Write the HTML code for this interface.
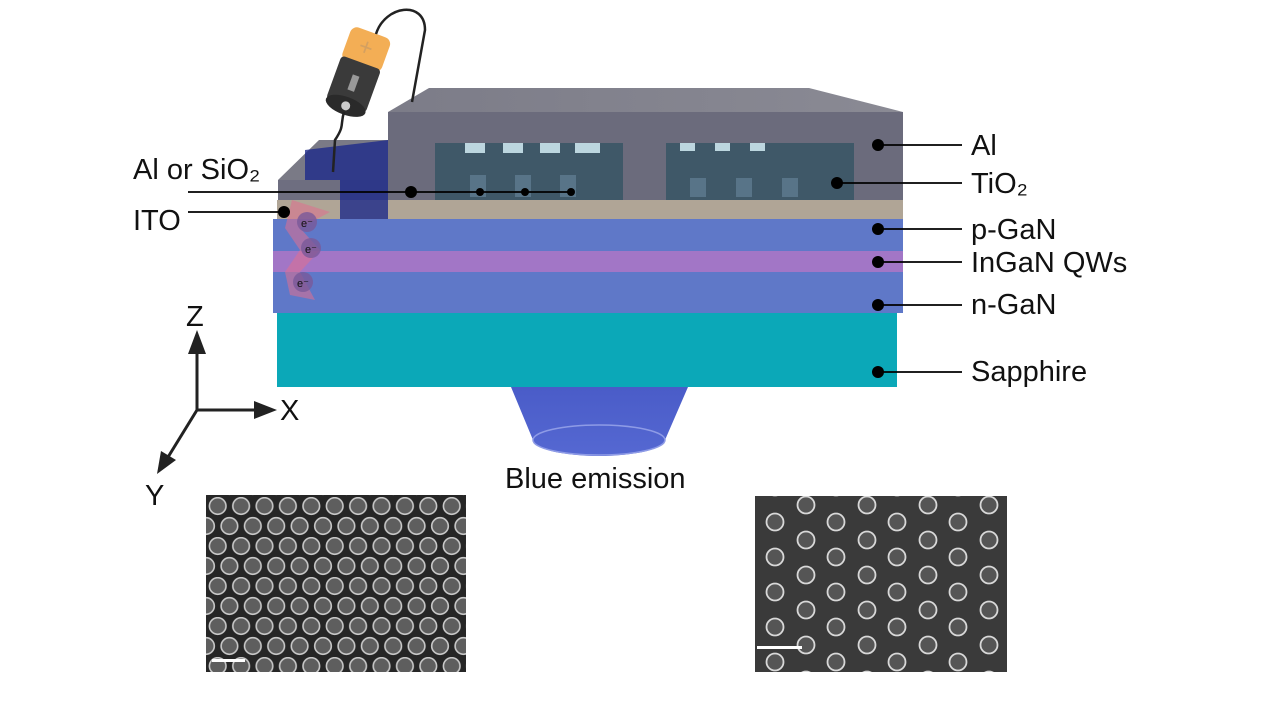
<!DOCTYPE html>
<html><head><meta charset="utf-8"><style>
html,body{margin:0;padding:0;background:#fff;}
svg{display:block;}
text{font-family:"Liberation Sans",Arial,sans-serif;fill:#111;}
</style></head><body>
<svg width="1280" height="720" viewBox="0 0 1280 720" xmlns="http://www.w3.org/2000/svg">
<defs>
<pattern id="hexL" x="206" y="497" width="23.4" height="40" patternUnits="userSpaceOnUse">
 <circle cx="11.7" cy="9" r="8.3" fill="#5e5e5e" stroke="#c8c8c8" stroke-width="1.6"/>
 <circle cx="0" cy="29" r="8.3" fill="#5e5e5e" stroke="#c8c8c8" stroke-width="1.6"/>
 <circle cx="23.4" cy="29" r="8.3" fill="#5e5e5e" stroke="#c8c8c8" stroke-width="1.6"/>
</pattern>
<pattern id="hexR" x="745" y="487" width="61" height="35" patternUnits="userSpaceOnUse">
 <circle cx="30" cy="35" r="8.5" fill="#555" stroke="#d8d8d8" stroke-width="1.8"/>
 <circle cx="30" cy="0" r="8.5" fill="#555" stroke="#d8d8d8" stroke-width="1.8"/>
 <circle cx="61" cy="18" r="8.5" fill="#555" stroke="#d8d8d8" stroke-width="1.8"/>
 <circle cx="0" cy="18" r="8.5" fill="#555" stroke="#d8d8d8" stroke-width="1.8"/>
</pattern>
<linearGradient id="cone" x1="0" y1="0" x2="0" y2="1"><stop offset="0" stop-color="#4a5cc8"/><stop offset="1" stop-color="#5568d2"/></linearGradient>
<linearGradient id="top" x1="0" y1="0" x2="1" y2="0"><stop offset="0" stop-color="#7c7c88"/><stop offset="1" stop-color="#8a8a94"/></linearGradient>
</defs>

<!-- emission cone -->
<path d="M511,387 L688,387 L665,440 A66,16 0 0 1 533,440 Z" fill="url(#cone)"/>
<ellipse cx="599" cy="440" rx="66" ry="15" fill="none" stroke="#8e9be6" stroke-width="1.5"/>

<!-- layers -->
<rect x="277" y="313" width="620" height="74" fill="#0ba8b8"/>
<rect x="273" y="272" width="630" height="41" fill="#5f78c8"/>
<rect x="273" y="251" width="630" height="21" fill="#a276c6"/>
<rect x="273" y="219" width="630" height="32" fill="#5f78c8"/>
<rect x="277" y="200" width="626" height="19" fill="#b0a596"/>
<!-- left small box -->
<polygon points="278,180 319,140 388,140 388,180" fill="#7a7a86"/>
<rect x="278" y="180" width="110" height="20" fill="#6e6e80"/>
<polygon points="305,180 305,150 388,140 388,219 340,219 340,180" fill="#1e2a8a" opacity="0.8"/>
<!-- Al box -->
<polygon points="388,112 429,88 809,88 903,112" fill="url(#top)"/>
<rect x="388" y="112" width="515" height="88" fill="#6b6b7c"/>
<rect x="435" y="143" width="188" height="57" fill="#3f5868"/>
<rect x="666" y="143" width="188" height="57" fill="#3f5868"/>
<g fill="#bcd6df"><rect x="465" y="143" width="20" height="10"/><rect x="503" y="143" width="20" height="10"/><rect x="540" y="143" width="20" height="10"/><rect x="575" y="143" width="25" height="10"/><rect x="680" y="143" width="15" height="8"/><rect x="715" y="143" width="15" height="8"/><rect x="750" y="143" width="15" height="8"/></g>
<g fill="#587488"><rect x="470" y="175" width="16" height="22"/><rect x="515" y="175" width="16" height="22"/><rect x="560" y="175" width="16" height="22"/><rect x="690" y="178" width="16" height="19"/><rect x="736" y="178" width="16" height="19"/><rect x="782" y="178" width="16" height="19"/></g>
<!-- electrons -->
<path d="M292,200 L330,212 L300,228 L320,250 L300,272 L315,300 L290,295 L285,272 L300,250 L285,228 Z" fill="#e07090" opacity="0.55"/>
<g fill="#7a5a9a" opacity="0.8"><circle cx="307" cy="222" r="10"/><circle cx="311" cy="248" r="10"/><circle cx="303" cy="282" r="10"/></g>
<g font-size="11"><text x="301" y="227">e⁻</text><text x="305" y="253">e⁻</text><text x="297" y="287">e⁻</text></g>

<!-- battery -->
<g transform="translate(358,72) rotate(20)">
<rect x="-21" y="-42" width="42" height="36" rx="7" fill="#f3ae55"/>
<rect x="-21" y="-10" width="42" height="46" rx="4" fill="#3a3a3a"/>
<ellipse cx="0" cy="36" rx="21" ry="9" fill="#2a2a2a"/>
<circle cx="0" cy="36" r="4.5" fill="#ccc"/>
<rect x="-4" y="4" width="7" height="16" fill="#999"/>
<text x="-8" y="-18" font-size="24" style="fill:#d4a060">+</text>
</g>
<path d="M376,34 C385,5 425,0 425,30 L412,102" fill="none" stroke="#222" stroke-width="2.5"/>
<path d="M344,112 C340,125 345,125 335,140 L333,172" fill="none" stroke="#222" stroke-width="2.5"/>

<!-- label lines -->
<g stroke="#000" stroke-width="1.8">
<line x1="878" y1="145" x2="962" y2="145"/>
<line x1="837" y1="183" x2="962" y2="183"/>
<line x1="878" y1="229" x2="962" y2="229"/>
<line x1="878" y1="262" x2="962" y2="262"/>
<line x1="878" y1="305" x2="962" y2="305"/>
<line x1="878" y1="372" x2="962" y2="372"/>
<line x1="188" y1="192" x2="571" y2="192"/>
<line x1="188" y1="212" x2="283" y2="212"/>
</g>
<g fill="#000">
<circle cx="878" cy="145" r="6"/><circle cx="837" cy="183" r="6"/><circle cx="878" cy="229" r="6"/><circle cx="878" cy="262" r="6"/><circle cx="878" cy="305" r="6"/><circle cx="878" cy="372" r="6"/>
<circle cx="411" cy="192" r="6"/><circle cx="480" cy="192" r="4"/><circle cx="525" cy="192" r="4"/><circle cx="571" cy="192" r="4"/>
<circle cx="284" cy="212" r="6"/>
</g>
<g font-size="29">
<text x="971" y="155">Al</text>
<text x="971" y="193">TiO₂</text>
<text x="971" y="239">p-GaN</text>
<text x="971" y="272">InGaN QWs</text>
<text x="971" y="314">n-GaN</text>
<text x="971" y="381">Sapphire</text>
<text x="133" y="179">Al or SiO₂</text>
<text x="133" y="230">ITO</text>
<text x="505" y="488">Blue emission</text>
<text x="186" y="326">Z</text>
<text x="280" y="420">X</text>
<text x="145" y="505">Y</text>
</g>

<!-- axes -->
<g stroke="#222" stroke-width="3" fill="none">
<line x1="197" y1="410" x2="197" y2="345"/>
<line x1="197" y1="410" x2="262" y2="410"/>
<line x1="197" y1="410" x2="165" y2="462"/>
</g>
<g fill="#222">
<polygon points="197,330 188,354 206,354"/>
<polygon points="277,410 254,401 254,419"/>
<polygon points="157,474 161,451 176,460"/>
</g>

<!-- SEM images -->
<rect x="206" y="495" width="260" height="177" fill="#262626"/>
<rect x="206" y="495" width="260" height="177" fill="url(#hexL)"/>
<rect x="212" y="659" width="33" height="3" fill="#fff"/>
<rect x="755" y="496" width="252" height="176" fill="#3a3a3a"/>
<rect x="755" y="496" width="252" height="176" fill="url(#hexR)"/>
<rect x="757" y="646" width="45" height="3" fill="#fff"/>
</svg>
</body></html>
